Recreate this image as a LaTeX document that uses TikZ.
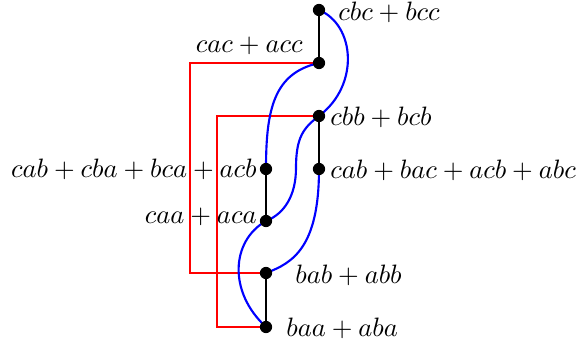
\documentclass[tikz,border=0pt]{standalone}
\begin{document}
\begin{tikzpicture}[x=0.376pt,y=-0.376pt,
  dot/.style={circle,fill=black,inner sep=0pt,minimum size=4.6pt},
  bar/.style={black,line width=0.8pt},
  wire/.style={red,line width=0.8pt},
  braid/.style={blue,line width=0.8pt},
  lbl/.style={inner sep=3.33pt}]
\useasboundingbox (0,0) rectangle (577,344);
% positions
\coordinate (cbc) at (319,10);
\coordinate (cac) at (319,63);
\coordinate (cbb) at (319,116);
\coordinate (cab) at (319,169);
\coordinate (acb) at (266,169);
\coordinate (aca) at (266,221);
\coordinate (bab) at (266,273);
\coordinate (baa) at (266,327);
\coordinate (mid) at (296,168);
% red wires
\draw[wire] (cac) -- ++(-129,0) |- (bab);
\draw[wire] (cbb) -- ++(-102,0) |- (baa);
% black bars
\draw[bar] (cbc) -- (cac);
\draw[bar] (cbb) -- (cab);
\draw[bar] (acb) -- (aca);
\draw[bar] (bab) -- (baa);
% blue curves
\draw[braid] (cbc) .. controls +(36,15) and +(41,-31) .. (cbb);
\draw[braid] (cac) .. controls +(-45,10) and +(0,-60) .. (acb);
\draw[braid] (cbb) .. controls +(-16,12) and +(0,-30) .. (mid)
  .. controls +(0,28) and +(18,-7) .. (aca);
\draw[braid] (cab) .. controls +(0,78) and +(27,-10) .. (bab);
\draw[braid] (aca) .. controls +(-35,20) and +(-38,-35) .. (baa);
% dots
\foreach \p in {cbc,cac,cbb,cab,acb,aca,bab,baa}
  \node[dot] (d\p) at (\p) {};
% labels
\node[lbl,anchor=west] (tcbc) at (329,12) {$cbc+bcc$};
\node[lbl,anchor=east] (tcac) at (312,46) {$cac+acc$};
\node[lbl,anchor=west] (tcbb) at (321,117) {$cbb+bcb$};
\node[lbl,anchor=west] (tcab) at (321,170) {$cab+bac+acb+abc$};
\node[lbl,anchor=east] (tacb) at (266,169) {$cab+cba+bca+acb$};
\node[lbl,anchor=east] (taca) at (266,217) {$caa+aca$};
\node[lbl,anchor=west] (tbab) at (286,275) {$bab+abb$};
\node[lbl,anchor=west] (tbaa) at (277,328) {$baa+aba$};
\end{tikzpicture}
\end{document}
